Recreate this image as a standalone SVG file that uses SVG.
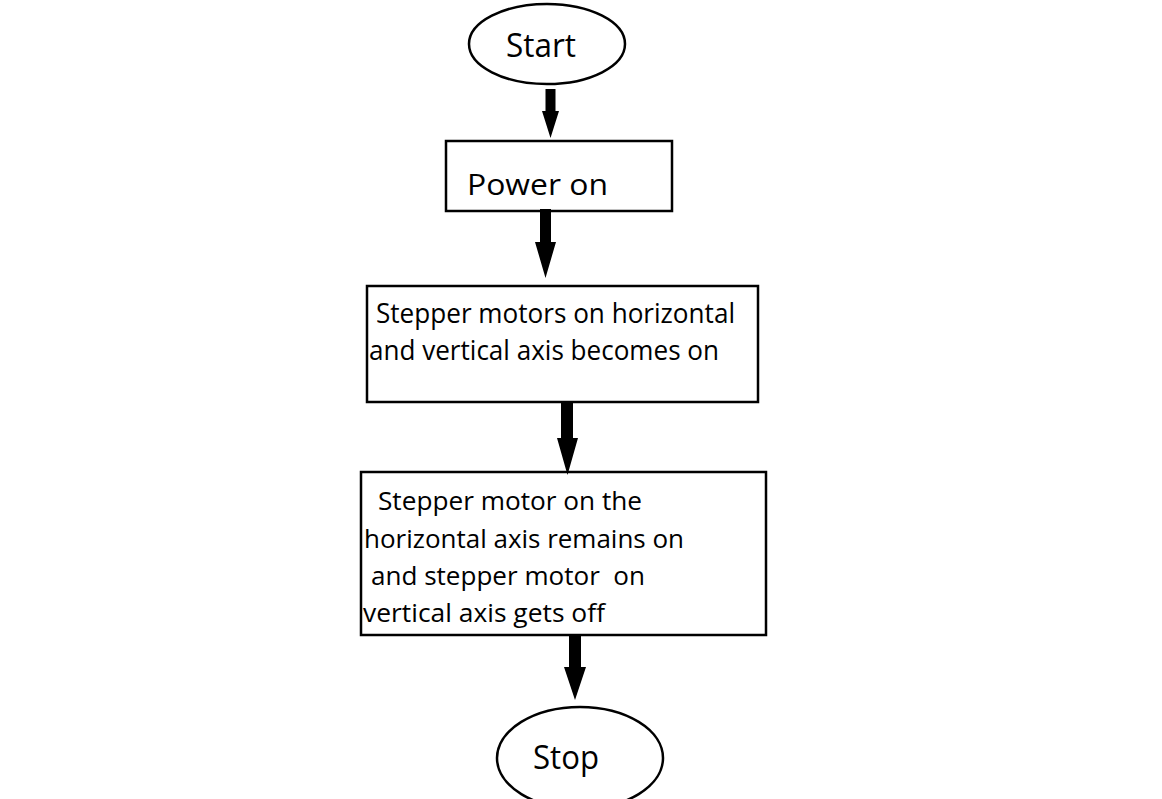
<svg xmlns="http://www.w3.org/2000/svg" width="1162" height="799" viewBox="0 0 1162 799">
<style>
.shape{fill:#fff;stroke:#000;stroke-width:2.5}
.t{font-family:"Open Sans","Noto Sans",sans-serif;fill:#000}
.arrow{fill:#000;stroke:none}
</style>
<rect width="1162" height="799" fill="#fff"/>
<g id="start">
<ellipse class="shape" cx="547" cy="44" rx="78" ry="40"/>
<text class="t" x="506" y="57" font-size="32" textLength="70" lengthAdjust="spacingAndGlyphs">Start</text>
</g>
<g id="power-on">
<rect class="shape" x="446" y="141" width="226" height="70"/>
<text class="t" x="467" y="195" font-size="30" textLength="141" lengthAdjust="spacingAndGlyphs">Power on</text>
</g>
<g id="motors-on">
<rect class="shape" x="367" y="286" width="391" height="116"/>
<text class="t" font-size="26.5">
<tspan x="376" y="323" textLength="359" lengthAdjust="spacingAndGlyphs">Stepper motors on horizontal</tspan>
<tspan x="369" y="360" textLength="350" lengthAdjust="spacingAndGlyphs">and vertical axis becomes on</tspan>
</text>
</g>
<g id="vertical-off">
<rect class="shape" x="361" y="472" width="405" height="163"/>
<text class="t" font-size="25.5">
<tspan x="378" y="510" textLength="264" lengthAdjust="spacingAndGlyphs">Stepper motor on the</tspan>
<tspan x="364" y="548" textLength="320" lengthAdjust="spacingAndGlyphs">horizontal axis remains on</tspan>
<tspan x="371" y="585" textLength="274" lengthAdjust="spacingAndGlyphs">and stepper motor&#160; on</tspan>
<tspan x="363" y="622" textLength="242" lengthAdjust="spacingAndGlyphs">vertical axis gets off</tspan>
</text>
</g>
<g id="stop">
<ellipse class="shape" cx="580" cy="758" rx="83" ry="51"/>
<text class="t" x="533" y="769" font-size="32" textLength="66" lengthAdjust="spacingAndGlyphs">Stop</text>
</g>
<g id="connectors">
<path class="arrow" d="M545.5 89 H555.5 V111 H559 L550.5 138 L542 111 H545.5 Z"/>
<path class="arrow" d="M540 209 H551 V242 H556 L545.5 278 L535 242 H540 Z"/>
<path class="arrow" d="M561 403 H573 V438 H578 L567.5 475 L557 438 H561 Z"/>
<path class="arrow" d="M569 636 H581 V667 H586 L575 700 L564 667 H569 Z"/>
</g>
</svg>
